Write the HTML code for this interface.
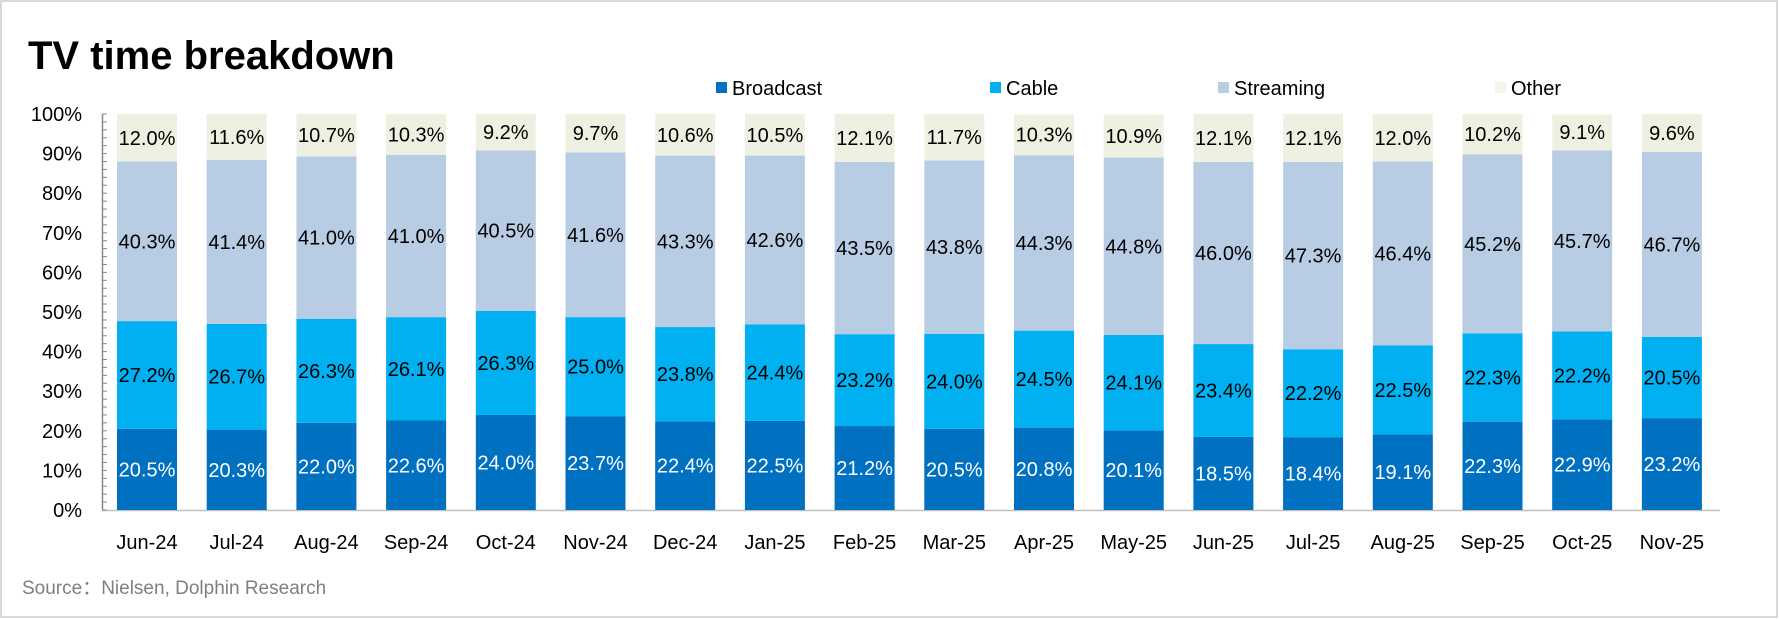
<!DOCTYPE html>
<html><head><meta charset="utf-8"><style>
body{margin:0;background:#fff;}
svg{display:block;font-family:"Liberation Sans",sans-serif;}
</style></head><body>
<svg id="chart" width="1780" height="620">
<rect x="1" y="1" width="1776" height="616" fill="#fff" stroke="#d9d9d9" stroke-width="2"/>
<text x="28" y="69" font-size="40" font-weight="bold" fill="#000">TV time breakdown</text>
<text x="22" y="594" font-size="19" fill="#7f7f7f">Source：Nielsen,  Dolphin Research</text>
<g id="legend"></g><g id="axis"></g><g id="bars"></g>
</svg>
<script>
const categories=["Jun-24","Jul-24","Aug-24","Sep-24","Oct-24","Nov-24","Dec-24","Jan-25","Feb-25","Mar-25","Apr-25","May-25","Jun-25","Jul-25","Aug-25","Sep-25","Oct-25","Nov-25"];
const broadcast=[20.5,20.3,22.0,22.6,24.0,23.7,22.4,22.5,21.2,20.5,20.8,20.1,18.5,18.4,19.1,22.3,22.9,23.2];
const cable=[27.2,26.7,26.3,26.1,26.3,25.0,23.8,24.4,23.2,24.0,24.5,24.1,23.4,22.2,22.5,22.3,22.2,20.5];
const streaming=[40.3,41.4,41.0,41.0,40.5,41.6,43.3,42.6,43.5,43.8,44.3,44.8,46.0,47.3,46.4,45.2,45.7,46.7];
const other=[12.0,11.6,10.7,10.3,9.2,9.7,10.6,10.5,12.1,11.7,10.3,10.9,12.1,12.1,12.0,10.2,9.1,9.6];
const yTicks=[0,10,20,30,40,50,60,70,80,90,100];
const seriesNames=["Broadcast","Cable","Streaming","Other"];
const NS="http://www.w3.org/2000/svg";
const X0=117,PITCH=89.7,BW=60,Y0=510,Y1=114;
const y=v=>Y0-(v/100)*(Y0-Y1);
const xb=i=>X0+i*PITCH;
function mk(t,a,p){const e=document.createElementNS(NS,t);for(const k in a)e.setAttribute(k,a[k]);(p||document.getElementById('chart')).appendChild(e);return e;}
const colors=["#0070C0","#00B0F0","#B8CCE4","#EEF1E2"];
const textCol=["#fff","#000","#000","#000"];
const series=[broadcast,cable,streaming,other];
const ax=document.getElementById('axis');
const axl=mk('line',{x1:102.5,x2:102.5,y1:Y1,y2:Y0,stroke:'#888','stroke-width':1.5},ax);

const bl=mk('line',{x1:102,x2:1720,y1:Y0+0.5,y2:Y0+0.5,stroke:'#bfbfbf','stroke-width':1.5},ax);

for(let v=0;v<=100;v+=2){const tk=mk('line',{x1:102,x2:107,y1:y(v),y2:y(v),stroke:'#888','stroke-width':1},ax);
}
yTicks.forEach(v=>{const t=mk('text',{x:82,y:y(v)+7,'font-size':20,'text-anchor':'end',fill:'#000'},ax);t.textContent=v+'%';
});
const bg=document.getElementById('bars');
categories.forEach((c,i)=>{let acc=0;
series.forEach((s,k)=>{const v=s[i];const r=mk('rect',{x:xb(i),y:y(acc+v),width:BW,height:y(acc)-y(acc+v),fill:colors[k]},bg);


const mid=k===3?(y(100)+y(acc))/2:(y(acc)+y(acc+v))/2;
const t=mk('text',{x:xb(i)+BW/2,y:mid+7,'font-size':20,'text-anchor':'middle',fill:textCol[k]},bg);t.textContent=v.toFixed(1)+'%';

acc+=v;});
const cl=mk('text',{x:xb(i)+BW/2,y:549,'font-size':20,'text-anchor':'middle',fill:'#000'},bg);cl.textContent=c;
});
const lg=document.getElementById('legend');
const lx=[716,990,1218,1495];
const swatch=["#0070C0","#00B0F0","#B8CCE4","#F4F6EC"];
seriesNames.forEach((n,k)=>{const sq=mk('rect',{x:lx[k],y:82,width:11,height:11,fill:swatch[k]},lg);

const t=mk('text',{x:lx[k]+16,y:95,'font-size':20,fill:'#000'},lg);t.textContent=n;
});
</script>
</body></html>
